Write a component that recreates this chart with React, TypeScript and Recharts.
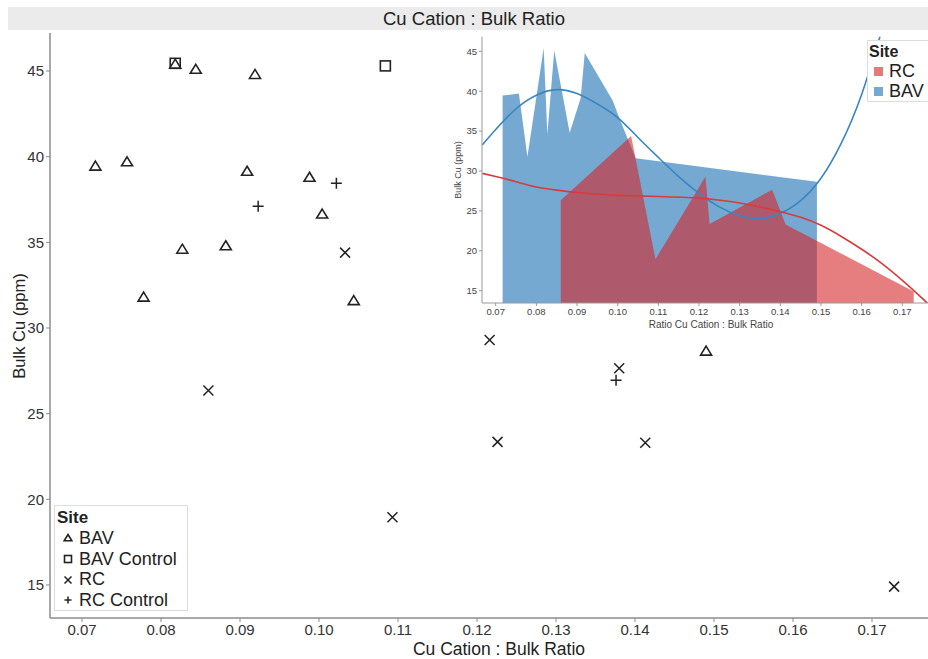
import React from 'react'
import { ScatterChart, Scatter, ComposedChart, Area, Line, XAxis, YAxis, Label } from 'recharts'

const INK = '#222'
const AXIS = '#8c8c8c'
const FONT = 'Arial, "Liberation Sans", sans-serif'

// Cu cation ratio vs bulk Cu (ppm), by site
const bav = [
  [0.0717, 39.45], [0.0757, 39.7], [0.0778, 31.8], [0.0818, 45.4], [0.0827, 34.6],
  [0.0844, 45.1], [0.0882, 34.8], [0.0909, 39.15], [0.0919, 44.8], [0.0988, 38.8],
  [0.1004, 36.65], [0.1044, 31.6], [0.149, 28.65],
]
const bavControl = [[0.0818, 45.45], [0.1084, 45.3]]
const rc = [
  [0.086, 26.35], [0.1033, 34.4], [0.1093, 18.95], [0.1216, 29.3],
  [0.1226, 23.35], [0.138, 27.65], [0.1413, 23.3], [0.1728, 14.9],
]
const rcControl = [[0.0923, 37.1], [0.1022, 38.45], [0.1376, 26.95]]

// smoothed trend lines drawn in the inset
const bavFit = [
  [0.0667, 33.26], [0.07, 35.2], [0.075, 37.8], [0.08, 39.5], [0.085, 40.2], [0.09, 39.7],
  [0.095, 38.4], [0.1, 36.7], [0.105, 34.2], [0.11, 31.7], [0.115, 29.3], [0.12, 27.2],
  [0.125, 25.5], [0.13, 24.4], [0.135, 24.05], [0.14, 24.7], [0.145, 26.3], [0.15, 29.1],
  [0.155, 33.5], [0.16, 39.6], [0.165, 47.7],
]
const rcFit = [
  [0.0667, 29.7], [0.07, 29.3], [0.075, 28.65], [0.08, 28.0], [0.085, 27.6], [0.09, 27.3],
  [0.095, 27.1], [0.1, 26.95], [0.11, 26.8], [0.12, 26.6], [0.125, 26.35], [0.13, 26.0],
  [0.135, 25.5], [0.14, 24.9], [0.145, 24.2], [0.15, 23.2], [0.155, 21.8], [0.16, 20.2],
  [0.165, 18.4], [0.17, 16.3], [0.175, 14.0], [0.179, 12.0],
]

const xTicks = [0.07, 0.08, 0.09, 0.1, 0.11, 0.12, 0.13, 0.14, 0.15, 0.16, 0.17]
const yTicks = [15, 20, 25, 30, 35, 40, 45]

const pts = (rows: number[][]) => rows.map(([x, y]) => ({ x, y }))

function Tri({ cx, cy, r = 5 }: any) {
  return <path d={`M${cx},${cy - r} L${cx + r * 1.1},${cy + r * 0.8} L${cx - r * 1.1},${cy + r * 0.8} Z`} fill="none" stroke={INK} strokeWidth={1.6} />
}
function Sq({ cx, cy, r = 5 }: any) {
  return <rect x={cx - r} y={cy - r} width={r * 2} height={r * 2} fill="none" stroke={INK} strokeWidth={1.6} />
}
function Cross({ cx, cy, r = 5 }: any) {
  return <path d={`M${cx - r},${cy - r} L${cx + r},${cy + r} M${cx - r},${cy + r} L${cx + r},${cy - r}`} stroke={INK} strokeWidth={1.5} />
}
function Plus({ cx, cy, r = 5.5 }: any) {
  return <path d={`M${cx - r},${cy} L${cx + r},${cy} M${cx},${cy - r} L${cx},${cy + r}`} stroke={INK} strokeWidth={1.5} />
}

const legendRows = [
  { name: 'BAV', Mark: Tri },
  { name: 'BAV Control', Mark: Sq },
  { name: 'RC', Mark: Cross },
  { name: 'RC Control', Mark: Plus },
]

const insetLegend = [
  { name: 'RC', color: '#e57a7a' },
  { name: 'BAV', color: '#74a9d2' },
]

export default function App() {
  const fmt = (v: number) => v.toFixed(2)
  return (
    <div style={{ position: 'fixed', left: 0, top: 0, width: 928, height: 659, overflow: 'hidden', background: '#fff', fontFamily: FONT }}>
      {/* title strip */}
      <div style={{ position: 'absolute', left: 8, top: 7, width: 932, height: 23, background: '#ebebeb', textAlign: 'center', fontSize: 18.5, lineHeight: '23px', color: INK }}>
        Cu Cation : Bulk Ratio
      </div>

      <ScatterChart width={948} height={659} margin={{ top: 33, right: 0, bottom: 0, left: 0 }} style={{ position: 'absolute', left: 0, top: 0 }}>
        <XAxis xAxisId="top" orientation="top" type="number" domain={[0.06595, 0.17962]} height={0} tick={false} tickLine={false} axisLine={{ stroke: AXIS, strokeWidth: 1.5 }} />
        <XAxis type="number" dataKey="x" domain={[0.06595, 0.17962]} ticks={xTicks} tickFormatter={fmt} height={41} tickSize={4}
          tick={{ fontSize: 15, fill: '#333', fontFamily: FONT }} tickLine={{ stroke: AXIS }} axisLine={{ stroke: AXIS, strokeWidth: 1.5 }}>
          <Label value="Cu Cation : Bulk Ratio" position="insideBottom" offset={4} style={{ fontSize: 17.5, fill: INK, fontFamily: FONT }} />
        </XAxis>
        <YAxis type="number" dataKey="y" domain={[13.07, 47.22]} ticks={yTicks} width={50} tickSize={4}
          tick={{ fontSize: 15, fill: '#333', fontFamily: FONT }} tickLine={{ stroke: AXIS }} axisLine={{ stroke: AXIS, strokeWidth: 1.5 }}>
          <Label content={() => (
            <text x={19} y={326} transform="rotate(-90 19 326)" textAnchor="middle" dominantBaseline="central" fontSize={16.5} fill={INK} fontFamily={FONT}>Bulk Cu (ppm)</text>
          )} />
        </YAxis>
        <Scatter name="BAV" data={pts(bav)} shape={Tri} isAnimationActive={false} />
        <Scatter name="BAV Control" data={pts(bavControl)} shape={Sq} isAnimationActive={false} />
        <Scatter name="RC" data={pts(rc)} shape={Cross} isAnimationActive={false} />
        <Scatter name="RC Control" data={pts(rcControl)} shape={Plus} isAnimationActive={false} />
      </ScatterChart>

      {/* main legend */}
      <div style={{ position: 'absolute', left: 54, top: 505, width: 132, height: 104, border: '1px solid #ddd', background: '#fff', color: INK }}>
        <div style={{ fontWeight: 'bold', fontSize: 17, lineHeight: '20px', marginLeft: 2, marginTop: 2 }}>Site</div>
        {legendRows.map(({ name, Mark }) => (
          <div key={name} style={{ display: 'flex', alignItems: 'center', height: 20.7, fontSize: 18 }}>
            <svg width={24} height={20}><Mark cx={13} cy={10} r={3.5} /></svg>
            <span>{name}</span>
          </div>
        ))}
      </div>

      {/* inset: area view of the same data with trend lines */}
      <div style={{ position: 'absolute', left: 440, top: 34, width: 500, height: 299, background: '#fff' }}>
        <ComposedChart width={500} height={299} margin={{ top: 2.7, right: 0, bottom: 0, left: 12 }}>
          <XAxis xAxisId="top" orientation="top" type="number" domain={[0.06663, 0.17927]} height={0} tick={false} tickLine={false} axisLine={{ stroke: '#999' }} />
          <XAxis type="number" dataKey="x" domain={[0.06663, 0.17927]} ticks={xTicks} tickFormatter={fmt} height={30} tickSize={3} allowDataOverflow
            tick={{ fontSize: 9.5, fill: '#444', fontFamily: FONT }} tickLine={{ stroke: '#999' }} axisLine={{ stroke: '#999' }}>
            <Label value="Ratio Cu Cation : Bulk Ratio" position="insideBottom" offset={5} style={{ fontSize: 10, fill: '#444', fontFamily: FONT }} />
          </XAxis>
          <YAxis type="number" dataKey="y" domain={[13.46, 46.83]} ticks={yTicks} width={30} tickSize={3} allowDataOverflow
            tick={{ fontSize: 9.5, fill: '#444', fontFamily: FONT }} tickLine={{ stroke: '#999' }} axisLine={{ stroke: '#999' }}>
            <Label content={() => (
              <text x={18} y={136} transform="rotate(-90 18 136)" textAnchor="middle" dominantBaseline="central" fontSize={9} fill="#444" fontFamily={FONT}>Bulk Cu (ppm)</text>
            )} />
          </YAxis>
          <Area data={pts(bav)} dataKey="y" type="linear" baseValue="dataMin" stroke="none" fill="#2b7bba" fillOpacity={0.65} isAnimationActive={false} />
          <Area data={pts(rc)} dataKey="y" type="linear" baseValue="dataMin" stroke="none" fill="#d62728" fillOpacity={0.6} isAnimationActive={false} />
          <Line data={pts(bavFit)} dataKey="y" type="natural" stroke="#3a86c0" strokeWidth={1.6} dot={false} isAnimationActive={false} />
          <Line data={pts(rcFit)} dataKey="y" type="natural" stroke="#d93b3b" strokeWidth={1.6} dot={false} isAnimationActive={false} />
        </ComposedChart>
      </div>

      {/* inset legend */}
      <div style={{ position: 'absolute', left: 867, top: 40, width: 80, height: 60, border: '1px solid #ddd', background: '#fff', color: INK }}>
        <div style={{ fontWeight: 'bold', fontSize: 16, lineHeight: '18px', marginLeft: 1, marginTop: 2 }}>Site</div>
        {insetLegend.map(r => (
          <div key={r.name} style={{ display: 'flex', alignItems: 'center', height: 20, fontSize: 18 }}>
            <span style={{ display: 'inline-block', width: 9, height: 9, background: r.color, marginLeft: 6, marginRight: 6 }} />
            <span>{r.name}</span>
          </div>
        ))}
      </div>
    </div>
  )
}
